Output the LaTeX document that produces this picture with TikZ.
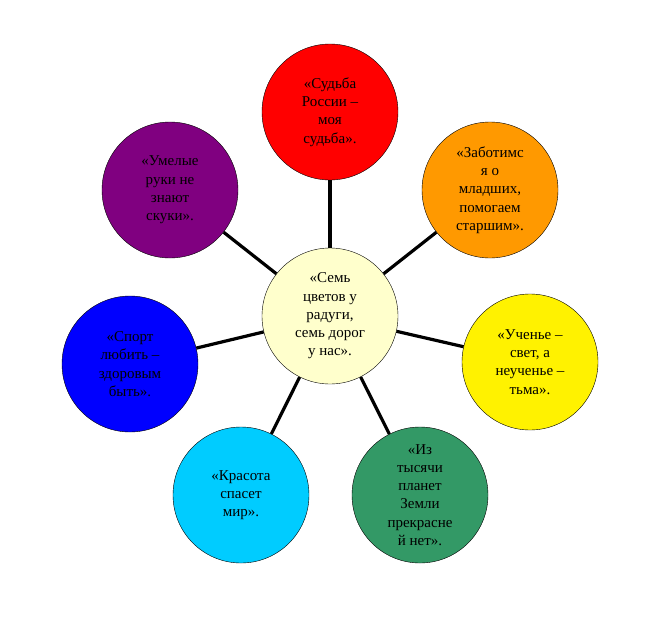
\documentclass[tikz,border=0pt]{standalone}
\usepackage{fontspec}
\setmainfont{Liberation Serif}
\usepackage{xcolor}
\usetikzlibrary{positioning}
\definecolor{hubfill}{HTML}{FFFFCC}
\definecolor{orangefill}{HTML}{FF9900}
\definecolor{greenfill}{HTML}{339966}
\definecolor{cyanfill}{HTML}{00CCFF}
\definecolor{purplefill}{HTML}{800080}

\begin{document}
\begin{tikzpicture}[x=1pt, y=-1pt,
        petal/.style={circle, draw=black, thin, minimum size=136pt, inner sep=0pt, align=center, font=\fontsize{15}{18.3}\selectfont},
        relation/.style={line width=3.2pt, black}
    ]
            \useasboundingbox (0,0) rectangle (661,637);
            \node[petal, fill=hubfill] (hub) at (330,316) {«Семь\\цветов у\\радуги,\\семь дорог\\у нас».};
            \node[petal, fill=red] (fate) at (330,112) {«Судьба\\России –\\моя\\судьба».};
            \node[petal, fill=orangefill] (care) at (490,190) {«Заботимс\\я о\\младших,\\помогаем\\старшим».};
            \node[petal, fill=yellow] (study) at (530,362) {«Ученье –\\свет, а\\неученье –\\тьма».};
            \node[petal, fill=greenfill] (earth) at (420,495) {«Из\\тысячи\\планет\\Земли\\прекрасне\\й нет».};
            \node[petal, fill=cyanfill] (beauty) at (241,495) {«Красота\\спасет\\мир».};
            \node[petal, fill=blue] (sport) at (130,364) {«Спорт\\любить –\\здоровым\\быть».};
            \node[petal, fill=purplefill] (hands) at (170,190) {«Умелые\\руки не\\знают\\скуки».};

            % Relations
            \draw[relation] (hub) -- (fate);
            \draw[relation] (hub) -- (care);
            \draw[relation] (hub) -- (study);
            \draw[relation] (hub) -- (earth);
            \draw[relation] (hub) -- (beauty);
            \draw[relation] (hub) -- (sport);
            \draw[relation] (hub) -- (hands);
    \end{tikzpicture}
\end{document}
